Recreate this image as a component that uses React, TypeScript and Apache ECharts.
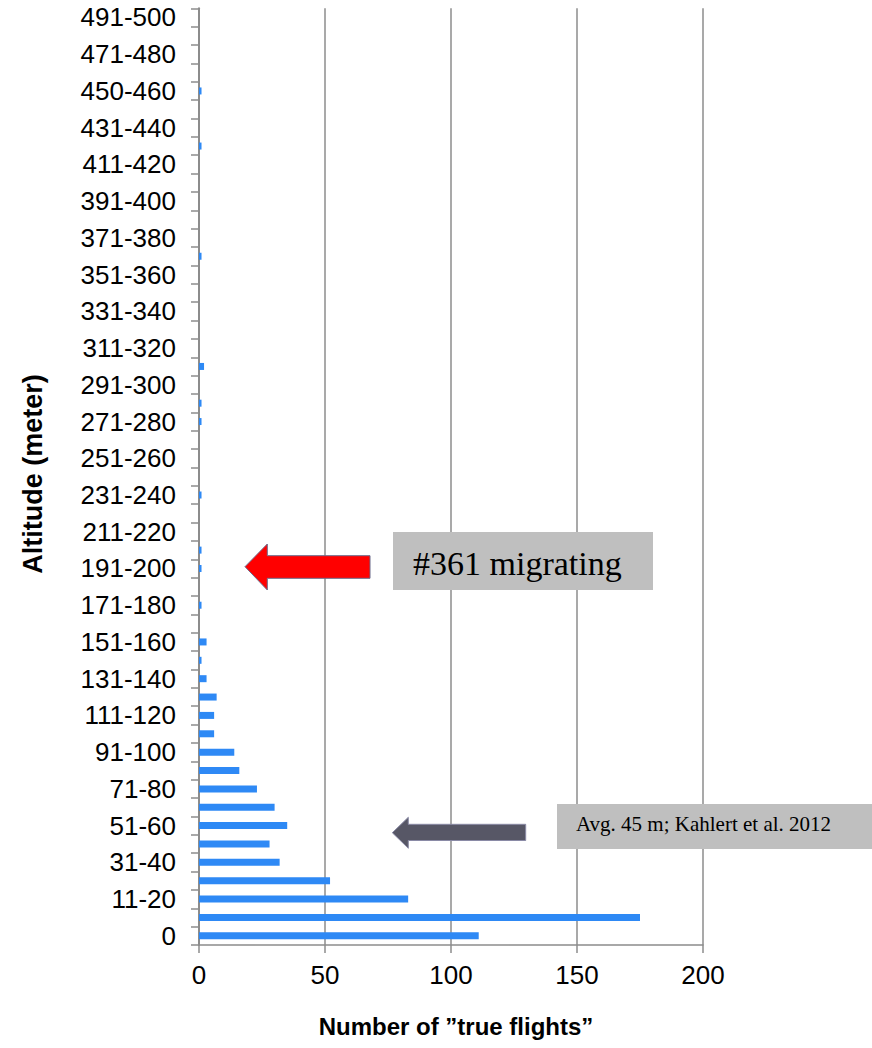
import React, { useEffect, useRef } from "react";
import * as echarts from "echarts";

const categories = [
  "0", "1-10", "11-20", "21-30", "31-40", "41-50", "51-60", "61-70", "71-80", "81-90",
  "91-100", "101-110", "111-120", "121-130", "131-140", "141-150", "151-160", "161-170", "171-180", "181-190",
  "191-200", "201-210", "211-220", "221-230", "231-240", "241-250", "251-260", "261-270", "271-280", "281-290",
  "291-300", "301-310", "311-320", "321-330", "331-340", "341-350", "351-360", "361-370", "371-380", "381-390",
  "391-400", "401-410", "411-420", "421-430", "431-440", "441-450", "450-460", "461-470", "471-480", "481-490",
  "491-500",
];

const flights = [
  111, 175, 83, 52, 32, 28, 35, 30, 23, 16,
  14, 6, 6, 7, 3, 1, 3, 0, 1, 0,
  1, 1, 0, 0, 1, 0, 0, 0, 1, 1,
  0, 2, 0, 0, 0, 0, 0, 1, 0, 0,
  0, 0, 0, 1, 0, 0, 1, 0, 0, 0,
  0,
];

const xMin = 0;
const xMax = 200;
const xStep = 50;

const yTitle = "Altitude (meter)";
const xTitle = "Number of \u201Dtrue flights\u201D";
const note1 = "#361 migrating";
const note2 = "Avg. 45 m; Kahlert et al. 2012";

export default function App() {
  const ref = useRef<HTMLDivElement>(null);
  useEffect(() => {
    const chart = echarts.init(ref.current!, null, { renderer: "svg" });
    const sans = "'Liberation Sans', Arial, sans-serif";
    const serif = "'Liberation Serif', 'Times New Roman', serif";
    const grey = "#8c8c8c";
    chart.setOption({
      animation: false,
      backgroundColor: "#ffffff",
      grid: { left: 199, right: 169, top: 8.3, bottom: 103, containLabel: false },
      xAxis: {
        type: "value",
        min: xMin,
        max: xMax,
        interval: xStep,
        axisLine: { show: true, lineStyle: { color: grey, width: 1.5 } },
        axisTick: { show: true, length: 8, lineStyle: { color: grey, width: 1.5 } },
        axisLabel: { color: "#000", fontFamily: sans, fontSize: 26, margin: 17 },
        splitLine: { show: true, lineStyle: { color: grey, width: 1.5 } },
      },
      yAxis: {
        type: "category",
        data: categories,
        boundaryGap: true,
        axisLine: { show: true, lineStyle: { color: grey, width: 2 } },
        axisTick: { show: true, interval: 0, length: 8, lineStyle: { color: grey, width: 1.5 } },
        axisLabel: { interval: 1, color: "#000", fontFamily: sans, fontSize: 26, margin: 23 },
        splitLine: { show: false },
      },
      series: [
        {
          type: "bar",
          data: flights,
          barWidth: 7,
          itemStyle: { color: "#2e89f5" },
          z: 3,
        },
      ],
      graphic: [
        {
          type: "text",
          x: 33,
          y: 474,
          rotation: Math.PI / 2,
          style: {
            text: yTitle,
            fontFamily: sans,
            fontSize: 27,
            fontWeight: "bold",
            fill: "#000",
            textAlign: "center",
            textVerticalAlign: "middle",
          },
        },
        {
          type: "text",
          x: 456,
          y: 1026,
          style: {
            text: xTitle,
            fontFamily: sans,
            fontSize: 24,
            fontWeight: "bold",
            fill: "#000",
            textAlign: "center",
            textVerticalAlign: "middle",
          },
        },
        {
          type: "rect",
          shape: { x: 393, y: 532, width: 260, height: 58 },
          style: { fill: "#bfbfbf" },
          z: 10,
        },
        {
          type: "text",
          x: 413,
          y: 563,
          z: 11,
          style: {
            text: note1,
            fontFamily: serif,
            fontSize: 34,
            fill: "#000",
            textAlign: "left",
            textVerticalAlign: "middle",
          },
        },
        {
          type: "polygon",
          z: 10,
          shape: {
            points: [
              [245, 566.7], [267.3, 544], [267.3, 555.7], [370, 555.7],
              [370, 578.3], [267.3, 578.3], [267.3, 590],
            ],
          },
          style: { fill: "#ff0000", stroke: "#6b6b8a", lineWidth: 1 },
        },
        {
          type: "rect",
          shape: { x: 557, y: 804, width: 316, height: 45 },
          style: { fill: "#bfbfbf" },
          z: 10,
        },
        {
          type: "text",
          x: 576,
          y: 824,
          z: 11,
          style: {
            text: note2,
            fontFamily: serif,
            fontSize: 21,
            fill: "#000",
            textAlign: "left",
            textVerticalAlign: "middle",
          },
        },
        {
          type: "polygon",
          z: 10,
          shape: {
            points: [
              [392.3, 832.7], [408.3, 817.3], [408.3, 824.3], [525.7, 824.3],
              [525.7, 840.5], [408.3, 840.5], [408.3, 848.3],
            ],
          },
          style: { fill: "#575766", stroke: "#8a8aa6", lineWidth: 1 },
        },
      ],
    });
    return () => chart.dispose();
  }, []);
  return (
    <div
      ref={ref}
      style={{ position: "fixed", left: 0, top: 0, width: 872, height: 1048, background: "#fff" }}
    />
  );
}
